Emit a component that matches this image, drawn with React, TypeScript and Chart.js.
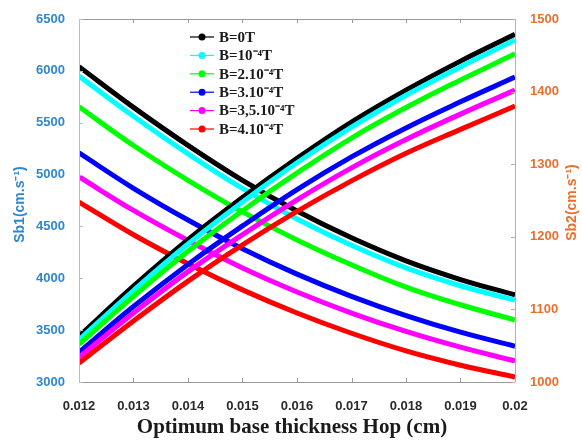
import React, { useEffect, useRef } from "react";
import { Chart, registerables } from "chart.js";

Chart.register(...registerables);

// Optimum base thickness Hop (cm)
const hop = [0.012, 0.013, 0.014, 0.015, 0.016, 0.017, 0.018, 0.019, 0.02];

// Magnetic field cases
const fieldLabels = ["B=0T", "B=10⁻⁴T", "B=2.10⁻⁴T", "B=3.10⁻⁴T", "B=3,5.10⁻⁴T", "B=4.10⁻⁴T"];
const fieldColors = ["#000000", "#00ffff", "#00ff00", "#0000ff", "#ff00ff", "#ff0000"];

// Sb1 (cm.s-1), left axis
const sb1B0 = [6040, 5648, 5282, 4945, 4648, 4390, 4168, 3988, 3840];
const sb1B1 = [5950, 5562, 5200, 4866, 4572, 4318, 4100, 3928, 3790];
const sb1B2 = [5654, 5280, 4945, 4640, 4370, 4130, 3915, 3745, 3598];
const sb1B3 = [5210, 4868, 4562, 4285, 4040, 3826, 3640, 3480, 3345];
const sb1B35 = [4979, 4654, 4364, 4100, 3868, 3665, 3488, 3336, 3203];
const sb1B4 = [4735, 4420, 4140, 3888, 3665, 3470, 3300, 3162, 3048];

// Sb2 (cm.s-1), right axis
const sb2B0 = [1063, 1132, 1196, 1254, 1308, 1358, 1402, 1442, 1479];
const sb2B1 = [1058, 1126, 1190, 1248, 1302, 1351, 1395, 1434, 1471];
const sb2B2 = [1052, 1118, 1180, 1236, 1288, 1336, 1378, 1416, 1452];
const sb2B3 = [1041, 1104, 1162, 1215, 1265, 1310, 1350, 1386, 1420];
const sb2B35 = [1034, 1095, 1152, 1203, 1251, 1295, 1334, 1369, 1402];
const sb2B4 = [1026, 1084, 1139, 1189, 1235, 1277, 1315, 1348, 1380];

const sb1Series = [sb1B0, sb1B1, sb1B2, sb1B3, sb1B35, sb1B4];
const sb2Series = [sb2B0, sb2B1, sb2B2, sb2B3, sb2B35, sb2B4];

// Axis ticks
const xTicks = [0.012, 0.013, 0.014, 0.015, 0.016, 0.017, 0.018, 0.019, 0.02];
const sb1Ticks = [3000, 3500, 4000, 4500, 5000, 5500, 6000, 6500];
const sb2Ticks = [1000, 1100, 1200, 1300, 1400, 1500];

const SB1_COLOR = "#2f87d0";
const SB2_COLOR = "#e8702c";
const TICK_FONT = "'Liberation Sans Narrow', 'Liberation Sans', Arial, sans-serif";
const SERIF = "'Liberation Serif', 'Times New Roman', serif";

const toPoints = (ys: number[]) => ys.map((y, i) => ({ x: hop[i], y }));

const framePlugin = {
  id: "frame",
  afterDraw(chart: any) {
    const { ctx, chartArea: a, scales } = chart;
    const tl = 4;
    ctx.save();
    ctx.lineWidth = 1;
    // top and bottom borders
    ctx.strokeStyle = "#9a9a9a";
    ctx.beginPath();
    ctx.moveTo(a.left, a.top + 0.5);
    ctx.lineTo(a.right, a.top + 0.5);
    ctx.moveTo(a.left, a.bottom + 0.5);
    ctx.lineTo(a.right, a.bottom + 0.5);
    xTicks.forEach((v) => {
      const x = Math.round(scales.x.getPixelForValue(v)) + 0.5;
      ctx.moveTo(x, a.top);
      ctx.lineTo(x, a.top + tl);
      ctx.moveTo(x, a.bottom);
      ctx.lineTo(x, a.bottom - tl);
    });
    ctx.stroke();
    // left axis
    ctx.strokeStyle = "#9fc4e6";
    ctx.beginPath();
    ctx.moveTo(a.left + 0.5, a.top);
    ctx.lineTo(a.left + 0.5, a.bottom);
    sb1Ticks.forEach((v) => {
      const y = Math.round(scales.ySb1.getPixelForValue(v)) + 0.5;
      ctx.moveTo(a.left, y);
      ctx.lineTo(a.left + tl, y);
    });
    ctx.stroke();
    // right axis
    ctx.strokeStyle = "#dba486";
    ctx.beginPath();
    ctx.moveTo(a.right + 0.5, a.top);
    ctx.lineTo(a.right + 0.5, a.bottom);
    sb2Ticks.forEach((v) => {
      const y = Math.round(scales.ySb2.getPixelForValue(v)) + 0.5;
      ctx.moveTo(a.right, y);
      ctx.lineTo(a.right - tl, y);
    });
    ctx.stroke();

    // axis titles
    const midY = (a.top + a.bottom) / 2;
    ctx.font = `bold 14px ${TICK_FONT}`;
    ctx.textAlign = "center";
    ctx.textBaseline = "middle";
    ctx.fillStyle = SB1_COLOR;
    ctx.save();
    ctx.translate(20, midY + 4);
    ctx.rotate(-Math.PI / 2);
    ctx.fillText("Sb1(cm.s⁻¹)", 0, 0);
    ctx.restore();
    ctx.fillStyle = SB2_COLOR;
    ctx.save();
    ctx.translate(572, midY + 2);
    ctx.rotate(-Math.PI / 2);
    ctx.fillText("Sb2(cm.s⁻¹)", 0, 0);
    ctx.restore();

    ctx.font = `bold 21px ${SERIF}`;
    ctx.fillStyle = "#1a1a1a";
    ctx.fillText("Optimum base thickness Hop (cm)", 292, 428);

    // legend
    const lx = 190;
    const ly = 37;
    const step = 18.4;
    ctx.font = `bold 15px ${SERIF}`;
    ctx.textAlign = "left";
    fieldLabels.forEach((label, i) => {
      const y = ly + i * step;
      ctx.strokeStyle = fieldColors[i];
      ctx.lineWidth = 1.2;
      ctx.beginPath();
      ctx.moveTo(lx, y);
      ctx.lineTo(lx + 24, y);
      ctx.stroke();
      ctx.fillStyle = fieldColors[i];
      ctx.beginPath();
      ctx.arc(lx + 12, y, 3.5, 0, Math.PI * 2);
      ctx.fill();
      ctx.fillStyle = "#1a1a1a";
      ctx.fillText(label, lx + 29, y + 1);
    });
    ctx.restore();
  },
};

export default function App() {
  const canvasRef = useRef<HTMLCanvasElement | null>(null);

  useEffect(() => {
    const canvas = canvasRef.current;
    if (!canvas) return;

    const decreasing = sb1Series.map((s, i) => ({
      label: fieldLabels[i],
      data: toPoints(s),
      yAxisID: "ySb1",
      borderColor: fieldColors[i],
      backgroundColor: fieldColors[i],
      borderWidth: 5,
      pointRadius: 0,
      tension: 0.4,
      order: 20 - i,
    }));
    const increasing = sb2Series.map((s, i) => ({
      label: fieldLabels[i],
      data: toPoints(s),
      yAxisID: "ySb2",
      borderColor: fieldColors[i],
      backgroundColor: fieldColors[i],
      borderWidth: 5,
      pointRadius: 0,
      tension: 0.4,
      order: 10 - i,
    }));

    const chart = new Chart(canvas, {
      type: "line",
      data: { datasets: [...decreasing, ...increasing] },
      options: {
        animation: false,
        responsive: false,
        events: [],
        layout: { padding: { top: 19, left: 0, right: 0, bottom: 0 }, autoPadding: false },
        plugins: { legend: { display: false }, tooltip: { enabled: false } },
        scales: {
          x: {
            type: "linear",
            position: "bottom",
            min: 0.012,
            max: 0.02,
            grid: { display: false },
            border: { display: false },
            afterBuildTicks: (s: any) => {
              s.ticks = xTicks.map((v) => ({ value: v }));
            },
            afterFit: (s: any) => {
              s.height = 61;
            },
            ticks: {
              padding: 9,
              color: "#2a2a2a",
              font: { family: TICK_FONT, weight: "bold", size: 13 },
              callback: (v: any) => String(Number(Number(v).toFixed(3))),
              maxRotation: 0,
              autoSkip: false,
            },
          },
          ySb1: {
            type: "linear",
            position: "left",
            min: 3000,
            max: 6500,
            grid: { display: false },
            border: { display: false },
            afterBuildTicks: (s: any) => {
              s.ticks = sb1Ticks.map((v) => ({ value: v }));
            },
            afterFit: (s: any) => {
              s.width = 79;
            },
            ticks: {
              padding: 6,
              color: SB1_COLOR,
              font: { family: TICK_FONT, weight: "bold", size: 13 },
              callback: (v: any) => String(v),
            },
          },
          ySb2: {
            type: "linear",
            position: "right",
            min: 1000,
            max: 1500,
            grid: { display: false },
            border: { display: false },
            afterBuildTicks: (s: any) => {
              s.ticks = sb2Ticks.map((v) => ({ value: v }));
            },
            afterFit: (s: any) => {
              s.width = 67;
            },
            ticks: {
              padding: 7,
              color: SB2_COLOR,
              font: { family: TICK_FONT, weight: "bold", size: 13 },
              callback: (v: any) => String(v),
            },
          },
        },
      },
      plugins: [framePlugin],
    });

    return () => chart.destroy();
  }, []);

  return (
    <div style={{ position: "absolute", left: 0, top: 0, width: 582, height: 443, background: "#fff" }}>
      <canvas ref={canvasRef} width={582} height={443} style={{ display: "block" }} />
    </div>
  );
}
